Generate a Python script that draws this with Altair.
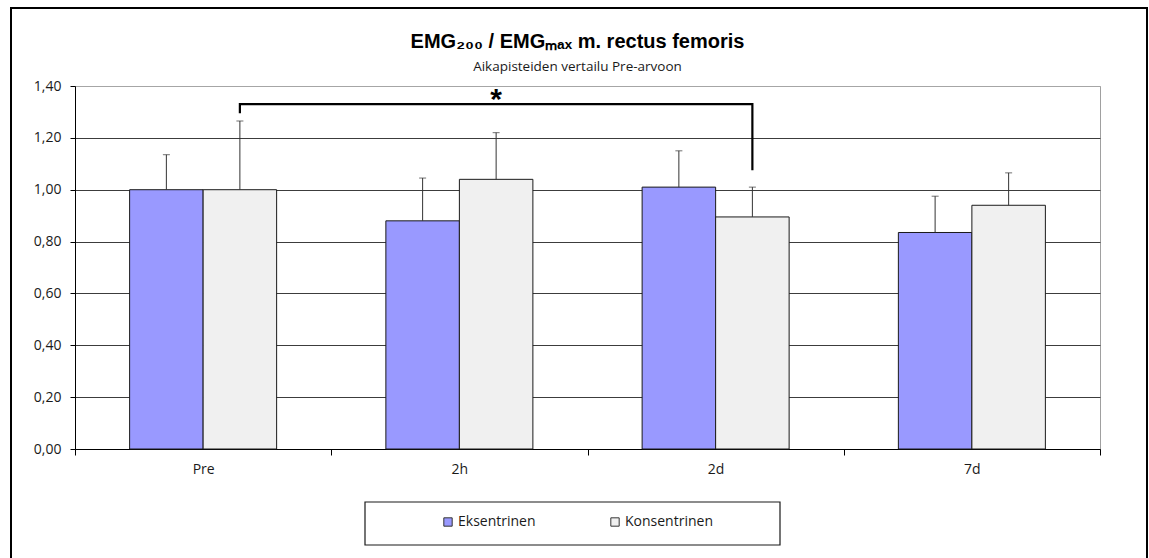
import altair as alt
import pandas as pd

# Mean EMG200/EMGmax ratio (m. rectus femoris) per time point, with SD
timepoints = ["Pre", "2h", "2d", "7d"]
groups = ["Eksentrinen", "Konsentrinen"]
ecc_mean = [1.00, 0.88, 1.01, 0.835]
ecc_sd = [0.135, 0.165, 0.14, 0.14]
con_mean = [1.00, 1.04, 0.895, 0.94]
con_sd = [0.265, 0.18, 0.115, 0.125]
bar_colors = ["#9999FF", "#F0F0F0"]
y_ticks = [0.0, 0.2, 0.4, 0.6, 0.8, 1.0, 1.2, 1.4]

# Significance bracket: Pre vs 2d (Konsentrinen)
bracket_time = ["Pre", "Pre", "2d", "2d"]
bracket_y = [1.295, 1.33, 1.33, 1.075]
star_time = ["2h"]
star_y = [1.345]

# Plot area and page geometry (pixels)
W, H = 1025, 363
PAD = {"left": 75, "top": 86, "right": 49, "bottom": 109}
FRAME_TOP = 8
FONT = "Open Sans"
TITLE_FONT = "Liberation Sans"

rows = []
for i, t in enumerate(timepoints):
    rows.append({"time": t, "group": groups[0], "mean": ecc_mean[i], "top": ecc_mean[i] + ecc_sd[i]})
    rows.append({"time": t, "group": groups[1], "mean": con_mean[i], "top": con_mean[i] + con_sd[i]})
df = pd.DataFrame(rows)

bracket_df = pd.DataFrame({
    "time": bracket_time,
    "group": [groups[1]] * len(bracket_time),
    "y": bracket_y,
    "step": list(range(len(bracket_time))),
})
star_df = pd.DataFrame({"time": star_time, "group": [groups[1]], "y": star_y})

x_enc = alt.X(
    "time:N",
    sort=timepoints,
    scale=alt.Scale(domain=timepoints, paddingInner=0, paddingOuter=0),
    axis=alt.Axis(
        title=None, tickBand="extent", tickSize=6, tickColor="black",
        domainColor="black", labelFontSize=14, labelPadding=7, labelAngle=0,
        labelColor="#1a1a1a", labelFont=FONT, grid=False,
    ),
)
xo_enc = alt.XOffset(
    "group:N", sort=groups,
    scale=alt.Scale(domain=groups, paddingInner=0, paddingOuter=0.743),
)
y_scale = alt.Scale(domain=[0, 1.4], nice=False, zero=True)

bars = alt.Chart(df).mark_bar(stroke="#1a1a1a", strokeWidth=1).encode(
    x=x_enc,
    xOffset=xo_enc,
    y=alt.Y(
        "mean:Q", scale=y_scale,
        axis=alt.Axis(
            title=None, values=y_ticks,
            labelExpr="replace(format(datum.value, '.2f'), '.', ',')",
            tickSize=5, tickColor="black", domainColor="black",
            labelFontSize=14, labelPadding=9, labelColor="#1a1a1a", labelFont=FONT,
            gridColor={"condition": {"test": "datum.value >= 1.39", "value": "#a6a6a6"},
                       "value": "#3c3c3c"},
        ),
    ),
    color=alt.Color(
        "group:N",
        scale=alt.Scale(domain=groups, range=bar_colors),
        legend=alt.Legend(
            title=None, orient="none", legendX=366, legendY=429,
            direction="horizontal", symbolType="square", symbolSize=70,
            symbolStrokeColor="#333333", symbolStrokeWidth=1,
            labelFontSize=14, labelFont=FONT, labelColor="#1a1a1a",
            columnPadding=72, labelOffset=3, padding=0,
        ),
    ),
)

err_rules = alt.Chart(df).mark_rule(color="#333333", strokeWidth=1).encode(
    x=x_enc, xOffset=xo_enc, y=alt.Y("mean:Q", scale=y_scale), y2="top:Q",
)
err_caps = alt.Chart(df).mark_tick(color="#333333", size=7, thickness=1).encode(
    x=x_enc, xOffset=xo_enc, y=alt.Y("top:Q", scale=y_scale),
)

bracket = alt.Chart(bracket_df).mark_line(color="black", strokeWidth=2.2).encode(
    x=x_enc, xOffset=xo_enc, y=alt.Y("y:Q", scale=y_scale), order="step:Q",
)
star = alt.Chart(star_df).mark_text(
    text="*", fontSize=30, fontWeight="bold", font=TITLE_FONT, color="black", baseline="middle",
).encode(x=x_enc, xOffset=xo_enc, y=alt.Y("y:Q", scale=y_scale))

frame_src = pd.DataFrame({"k": [0]})
# Outer chart frame
outer_frame = alt.Chart(frame_src).mark_rect(
    fillOpacity=0, stroke="black", strokeWidth=2,
).encode(
    x=alt.value(11 - PAD["left"]), x2=alt.value(1147 - PAD["left"]),
    y=alt.value(FRAME_TOP - PAD["top"]), y2=alt.value(570 - PAD["top"]),
)
# Legend frame
legend_frame = alt.Chart(frame_src).mark_rect(
    fillOpacity=0, stroke="#1a1a1a", strokeWidth=1.2,
).encode(
    x=alt.value(365 - PAD["left"]), x2=alt.value(780 - PAD["left"]),
    y=alt.value(502 - PAD["top"]), y2=alt.value(545 - PAD["top"]),
)

# The frame reaches above the plot, so the title is pushed back down into place
title_bottom = 73
title_dy = title_bottom - (FRAME_TOP - 1)

chart = alt.layer(
    bars, err_rules, err_caps, bracket, star, outer_frame, legend_frame,
).properties(
    width=W, height=H,
    padding=PAD,
    autosize=alt.AutoSizeParams(type="none"),
    background="white",
    title=alt.TitleParams(
        text="EMG₂₀₀ / EMGₘₐₓ m. rectus femoris",
        subtitle="Aikapisteiden vertailu Pre-arvoon",
        font=TITLE_FONT, fontSize=20, fontWeight="bold", color="black",
        subtitleFont=FONT, subtitleFontSize=13.5, subtitleColor="#1a1a1a",
        anchor="middle", dx=-10, dy=title_dy, offset=0, subtitlePadding=7.5,
    ),
).configure_view(
    stroke="#a0a0a0", strokeWidth=1,
)

chart.save("out.html", embed_options={"renderer": "svg", "actions": False})
